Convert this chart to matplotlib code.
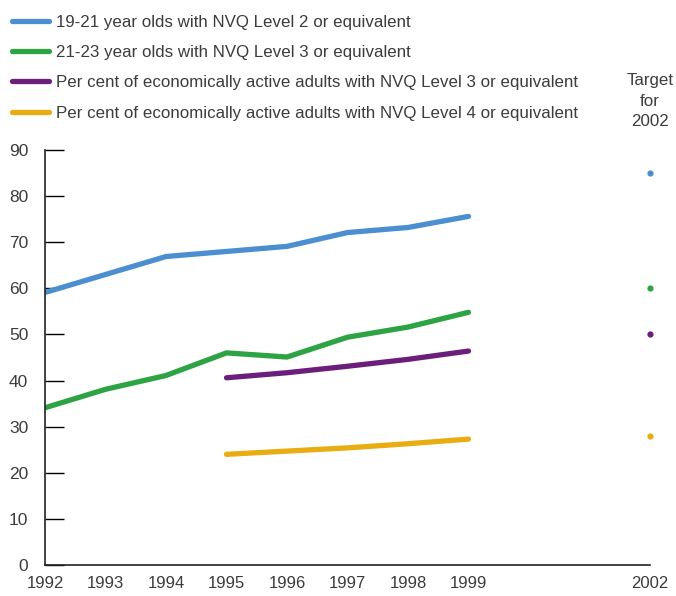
import numpy as np
import matplotlib
matplotlib.use('Agg')
import matplotlib.pyplot as plt

plt.rcParams['font.family'] = ['Liberation Sans', 'DejaVu Sans']

#values
years = [1992, 1993, 1994, 1995, 1996, 1997, 1998, 1999]
years_adult = [1995, 1996, 1997, 1998, 1999]
nvq2_1921 = [59.1, 63.0, 66.9, 68.0, 69.1, 72.1, 73.2, 75.6]
nvq3_2123 = [34.1, 38.1, 41.1, 46.0, 45.1, 49.4, 51.6, 54.8]
nvq3_adult = [40.6, 41.7, 43.1, 44.6, 46.4]
nvq4_adult = [24.0, 24.7, 25.4, 26.3, 27.3]
target_year = 2002
targets = [85, 60, 50, 28]

labels = ['19-21 year olds with NVQ Level 2 or equivalent',
          '21-23 year olds with NVQ Level 3 or equivalent',
          'Per cent of economically active adults with NVQ Level 3 or equivalent',
          'Per cent of economically active adults with NVQ Level 4 or equivalent']
colors = ['#4b8fd0', '#2da344', '#6b1f7b', '#e9ad12']
xtick_years = [1992, 1993, 1994, 1995, 1996, 1997, 1998, 1999, 2002]

txt = '#3c3c3c'
fig = plt.figure(figsize=(6.76, 5.96), dpi=100)
ax = fig.add_axes([45/676, 31/596, 605/676, 415/596])

series = [(years, nvq2_1921), (years, nvq3_2123), (years_adult, nvq3_adult), (years_adult, nvq4_adult)]
for (xs, ys), c, lab in zip(series, colors, labels):
    ax.plot(xs, ys, color=c, lw=3.8, solid_capstyle='round', solid_joinstyle='round', label=lab)
for t, c in zip(targets, colors):
    ax.plot([target_year], [t], 'o', color=c, ms=4.5, mec='none', clip_on=False)

ax.set_xlim(1992, 2002)
ax.set_ylim(0, 90)
ax.set_yticks(np.arange(0, 91, 10))
ax.set_xticks(xtick_years)
ax.set_xticks([2002], minor=True)
ax.tick_params(axis='y', direction='in', length=14, width=1, pad=12, labelsize=12.5, labelcolor=txt)
ax.tick_params(axis='x', which='major', length=0, pad=8, labelsize=12, labelcolor=txt)
ax.tick_params(axis='x', which='minor', direction='in', length=13, width=1)
for s in ['top', 'right']:
    ax.spines[s].set_visible(False)
for s in ['left', 'bottom']:
    ax.spines[s].set_color('#222222')
    ax.spines[s].set_linewidth(1.2)
ax.patch.set_alpha(0)

fig.text(650/676, 1 - 101/596, 'Target\nfor\n2002', ha='center', va='center', fontsize=12.2,
         color=txt, linespacing=1.45)

leg = fig.legend(loc='upper left', bbox_to_anchor=(5/676, 1 - 8/596), frameon=False,
                 fontsize=12.2, handlelength=2.2, handletextpad=0.4, labelspacing=0.9,
                 borderaxespad=0)
for t in leg.get_texts():
    t.set_color(txt)

fig.savefig('out.png', dpi=100)
